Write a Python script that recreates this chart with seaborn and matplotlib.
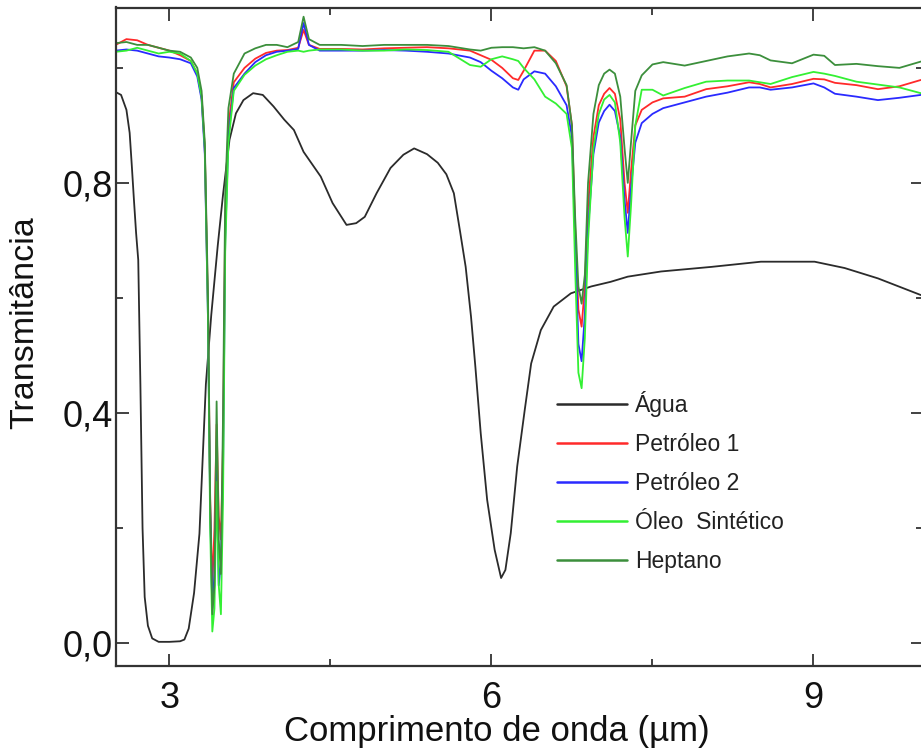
import numpy as np
import pandas as pd
import matplotlib
matplotlib.use("Agg")
import matplotlib.pyplot as plt
import seaborn as sns

# ---- data -------------------------------------------------------------
x_agua = [2.50, 2.55, 2.60, 2.63, 2.65, 2.67, 2.69, 2.71, 2.73, 2.75, 2.77, 2.80,
          2.84, 2.90, 3.00, 3.10, 3.14, 3.18, 3.23, 3.28, 3.34, 3.39, 3.45, 3.50,
          3.56, 3.62, 3.69, 3.78, 3.87, 3.97, 4.07, 4.16, 4.25, 4.41, 4.52, 4.65,
          4.74, 4.82, 4.93, 5.06, 5.18, 5.28, 5.40, 5.50, 5.58, 5.65, 5.71, 5.76,
          5.81, 5.85, 5.90, 5.96, 6.03, 6.09, 6.13, 6.18, 6.24, 6.31, 6.37, 6.46,
          6.58, 6.74, 6.93, 7.11, 7.27, 7.58, 8.05, 8.51, 9.01, 9.29, 9.60, 10.0]
t_agua = [0.958, 0.953, 0.927, 0.887, 0.830, 0.770, 0.713, 0.666, 0.450, 0.200, 0.080, 0.030,
          0.008, 0.002, 0.002, 0.003, 0.006, 0.025, 0.087, 0.190, 0.450, 0.570, 0.690, 0.780,
          0.875, 0.921, 0.944, 0.956, 0.953, 0.933, 0.910, 0.892, 0.854, 0.811, 0.765, 0.727,
          0.730, 0.741, 0.782, 0.826, 0.849, 0.860, 0.850, 0.835, 0.815, 0.782, 0.713, 0.654,
          0.567, 0.481, 0.365, 0.249, 0.162, 0.113, 0.127, 0.191, 0.307, 0.405, 0.486, 0.544,
          0.585, 0.608, 0.620, 0.628, 0.637, 0.646, 0.654, 0.663, 0.663, 0.652, 0.634, 0.605]

x_sp = [2.50, 2.60, 2.70, 2.80, 2.90, 3.00, 3.10, 3.20, 3.26, 3.30, 3.33, 3.36,
        3.38, 3.40, 3.42, 3.44, 3.46, 3.48, 3.50, 3.52, 3.55, 3.60, 3.70, 3.80,
        3.90, 4.00, 4.10, 4.20, 4.25, 4.30, 4.40, 4.60, 4.80, 5.00, 5.20, 5.40,
        5.60, 5.80, 5.90, 6.00, 6.10, 6.20, 6.25, 6.30, 6.40, 6.50, 6.60, 6.70,
        6.75, 6.78, 6.81, 6.84, 6.87, 6.90, 6.95, 7.00, 7.05, 7.10, 7.15, 7.20,
        7.24, 7.27, 7.30, 7.34, 7.40, 7.50, 7.60, 7.80, 8.00, 8.20, 8.40, 8.50,
        8.60, 8.80, 9.00, 9.10, 9.20, 9.40, 9.60, 9.80, 10.0]

t_petroleo1 = [1.040, 1.050, 1.048, 1.040, 1.035, 1.030, 1.022, 1.012, 0.990, 0.950, 0.860, 0.580,
               0.250, 0.100, 0.200, 0.380, 0.220, 0.180, 0.350, 0.740, 0.900, 0.975, 1.000, 1.016,
               1.026, 1.030, 1.031, 1.035, 1.066, 1.040, 1.033, 1.033, 1.032, 1.034, 1.035, 1.036,
               1.034, 1.030, 1.022, 1.014, 1.000, 0.982, 0.979, 0.995, 1.030, 1.030, 1.012, 0.968,
               0.900, 0.720, 0.580, 0.550, 0.620, 0.760, 0.880, 0.935, 0.955, 0.965, 0.955, 0.910,
               0.800, 0.748, 0.820, 0.900, 0.927, 0.940, 0.947, 0.950, 0.963, 0.968, 0.975, 0.972,
               0.966, 0.972, 0.981, 0.980, 0.974, 0.970, 0.963, 0.968, 0.979]

t_petroleo2 = [1.030, 1.032, 1.030, 1.025, 1.020, 1.018, 1.015, 1.008, 0.985, 0.945, 0.850, 0.560,
               0.230, 0.060, 0.120, 0.300, 0.100, 0.140, 0.300, 0.700, 0.880, 0.965, 0.990, 1.010,
               1.022, 1.028, 1.030, 1.033, 1.078, 1.040, 1.030, 1.030, 1.030, 1.031, 1.030, 1.028,
               1.025, 1.018, 1.010, 0.995, 0.982, 0.966, 0.962, 0.980, 0.994, 0.990, 0.968, 0.935,
               0.880, 0.700, 0.520, 0.490, 0.570, 0.720, 0.850, 0.905, 0.925, 0.936, 0.925, 0.880,
               0.770, 0.713, 0.790, 0.870, 0.904, 0.920, 0.930, 0.940, 0.950, 0.957, 0.966, 0.966,
               0.962, 0.966, 0.973, 0.966, 0.955, 0.950, 0.944, 0.948, 0.953]

t_oleo = [1.028, 1.030, 1.035, 1.030, 1.025, 1.028, 1.025, 1.012, 0.990, 0.950, 0.860, 0.560,
          0.200, 0.020, 0.060, 0.280, 0.100, 0.050, 0.250, 0.680, 0.870, 0.960, 0.988, 1.004,
          1.015, 1.022, 1.028, 1.030, 1.028, 1.030, 1.032, 1.032, 1.030, 1.030, 1.032, 1.031,
          1.028, 1.005, 1.002, 1.015, 1.020, 1.015, 1.012, 1.000, 0.980, 0.950, 0.938, 0.920,
          0.860, 0.650, 0.470, 0.443, 0.530, 0.700, 0.860, 0.920, 0.945, 0.953, 0.940, 0.870,
          0.740, 0.672, 0.760, 0.900, 0.962, 0.962, 0.952, 0.965, 0.976, 0.978, 0.978, 0.975,
          0.972, 0.984, 0.993, 0.990, 0.986, 0.976, 0.971, 0.966, 0.956]

t_heptano = [1.043, 1.045, 1.040, 1.040, 1.035, 1.030, 1.028, 1.018, 1.000, 0.960, 0.870, 0.600,
             0.250, 0.050, 0.100, 0.420, 0.180, 0.120, 0.400, 0.780, 0.930, 0.990, 1.025, 1.034,
             1.040, 1.040, 1.036, 1.045, 1.089, 1.050, 1.040, 1.040, 1.038, 1.040, 1.040, 1.040,
             1.038, 1.032, 1.030, 1.035, 1.036, 1.036, 1.035, 1.034, 1.036, 1.030, 1.008, 0.970,
             0.900, 0.740, 0.620, 0.590, 0.640, 0.800, 0.920, 0.970, 0.990, 0.997, 0.990, 0.950,
             0.860, 0.800, 0.870, 0.960, 0.987, 1.006, 1.010, 1.004, 1.012, 1.020, 1.025, 1.022,
             1.013, 1.008, 1.023, 1.021, 1.005, 1.007, 1.003, 1.000, 1.011]

labels = ["Água", "Petróleo 1", "Petróleo 2", "Óleo  Sintético", "Heptano"]
colors = ["#2b2b2b", "#ff2a2a", "#2a2aff", "#33f033", "#3c8f3c"]

frames = [pd.DataFrame({"x": x_agua, "T": t_agua, "amostra": labels[0]})]
for lab, t in zip(labels[1:], [t_petroleo1, t_petroleo2, t_oleo, t_heptano]):
    frames.append(pd.DataFrame({"x": x_sp, "T": t, "amostra": lab}))
df = pd.concat(frames, ignore_index=True)

# ---- figure -----------------------------------------------------------
sns.set_theme(style="white")
plt.rcParams["font.family"] = ["Liberation Sans", "DejaVu Sans"]

fig = plt.figure(figsize=(9.21, 7.49), dpi=100)
ax = fig.add_axes([115.7 / 921, 83 / 749, (923 - 115.7) / 921, (666 - 7.5) / 749])

sns.lineplot(data=df, x="x", y="T", hue="amostra", hue_order=labels,
             palette=dict(zip(labels, colors)), estimator=None, sort=False,
             linewidth=1.3, ax=ax)

ax.set_xlim(2.5, 10.02)
ax.set_ylim(-0.04, 1.105)

ax.set_xticks([3, 6, 9])
ax.set_xticks([4.5, 7.5], minor=True)
ax.set_yticks([0.0, 0.4, 0.8])
ax.set_yticklabels(["0,0", "0,4", "0,8"])
ax.set_yticks([0.2, 0.6, 1.0], minor=True)

for s in ax.spines.values():
    s.set_linewidth(1.6)
    s.set_color("#333333")

ax.tick_params(which="both", direction="in", top=True, right=True, left=True, bottom=True,
               color="#333333", width=1.3, labelsize=26, labelcolor="#111111")
ax.tick_params(which="major", length=9)
ax.tick_params(which="minor", length=5)
ax.tick_params(axis="y", which="major", pad=2)
ax.tick_params(axis="x", which="major", pad=11)

ax.set_xlabel("Comprimento de onda (µm)", fontsize=25, color="#111111")
ax.set_ylabel("Transmitância", fontsize=24.5, color="#111111")
ax.xaxis.set_label_coords(0.472, -0.074, transform=ax.transAxes)
ax.yaxis.set_label_coords(-0.093, 0.522, transform=ax.transAxes)
ax.xaxis.label.set_va("top")

leg = ax.legend(loc="upper left", bbox_to_anchor=(0.535, 0.431), frameon=False,
                fontsize=16.5, handlelength=3.05, handletextpad=0.35, labelspacing=0.69,
                borderaxespad=0)
for line in leg.get_lines():
    line.set_linewidth(1.8)
for txt in leg.get_texts():
    txt.set_color("#222222")

fig.savefig("out.png", dpi=100)
